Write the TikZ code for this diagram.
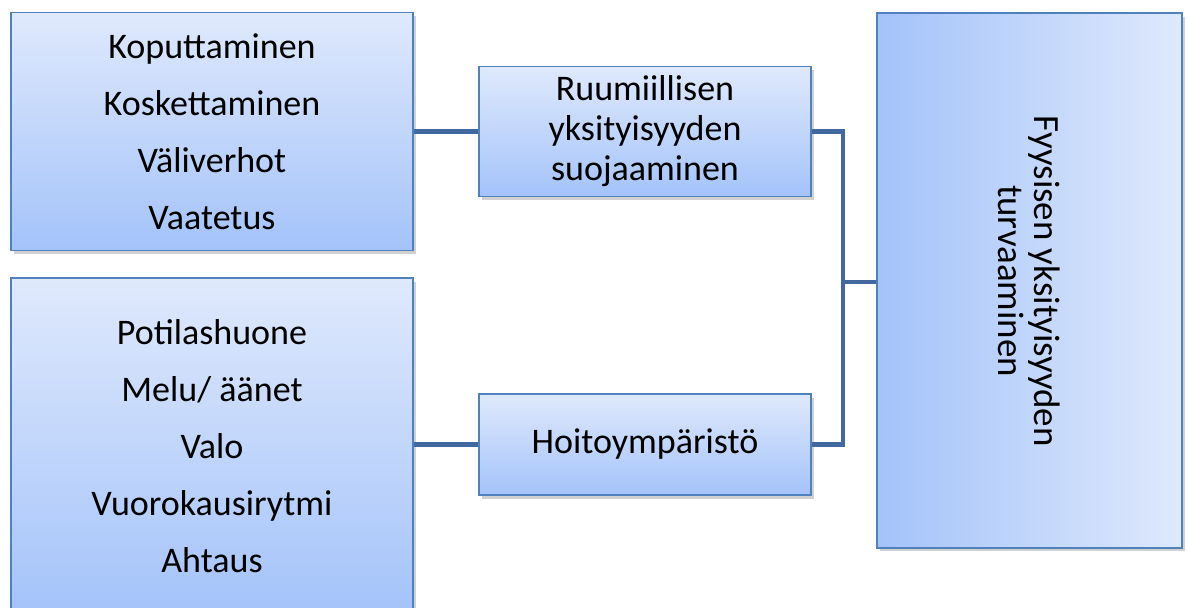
\documentclass[tikz,border=0pt]{standalone}
\usepackage{fontspec}
\setmainfont{Carlito}
\usetikzlibrary{shadows}
\definecolor{boxline}{RGB}{79,129,189}
\definecolor{linkblue}{RGB}{65,105,160}
\definecolor{paleblue}{RGB}{223,233,252}
\definecolor{midblue}{RGB}{164,195,250}

\tikzset{
  item/.style={rectangle, draw=boxline, line width=0.8pt, top color=paleblue, bottom color=midblue, align=center,
    drop shadow={shadow xshift=1.5pt, shadow yshift=-2pt, opacity=0.3, fill=black!60}},
  link/.style={linkblue, line width=2.8pt},
}

\begin{document}
\begin{tikzpicture}[x=0.02cm, y=-0.02cm]
        \useasboundingbox (0,0) rectangle (1187,608);

        % Left lists
        \node[item, minimum width=8.04cm, minimum height=4.76cm, font=\fontsize{20.5}{32.4}\selectfont] (touch) at (212,131.5)
            {Koputtaminen\\Koskettaminen\\Väliverhot\\Vaatetus};
        \node[item, minimum width=8.04cm, minimum height=6.72cm, font=\fontsize{20.5}{32.4}\selectfont] (room) at (212,446)
            {Potilashuone\\Melu/ äänet\\Valo\\Vuorokausirytmi\\Ahtaus};

        % Middle boxes
        \node[item, minimum width=6.64cm, minimum height=2.6cm, font=\fontsize{20.5}{22.8}\selectfont] (body) at (645,131.5)
            {Ruumiillisen\\yksityisyyden\\suojaaminen};
        \node[item, minimum width=6.64cm, minimum height=2.02cm, font=\fontsize{20.5}{22.8}\selectfont] (care) at (645,444.5)
            {Hoitoympäristö};

        % Right box
        \node[item, top color=midblue, bottom color=midblue, left color=midblue, right color=paleblue,
            minimum width=6.1cm, minimum height=10.7cm] (phys) at (1029.5,280.5) {};
        \node[rotate=-90, align=center, font=\fontsize{21}{20.5}\selectfont] (physlabel) at (1029,281)
            {Fyysisen yksityisyyden\\turvaaminen};

        % Connectors
        \coordinate (fork) at (843,282);
        \draw[link] (touch.east) -- (body.west);
        \draw[link] (room.east |- care.west) -- (care.west);
        \draw[link] (body.east) -| (fork) |- (care.east);
        \draw[link] (fork) -- (phys.west |- fork);
    \end{tikzpicture}
\end{document}
